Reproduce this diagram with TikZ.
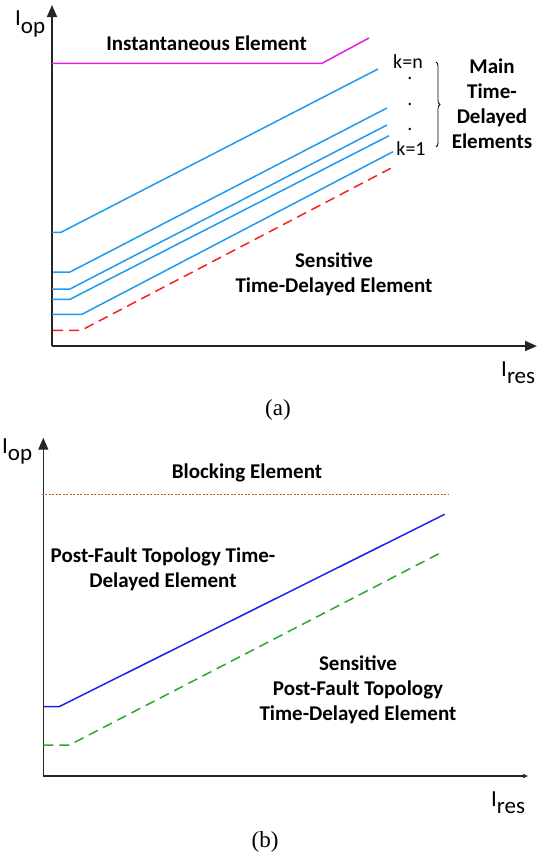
\documentclass[tikz,border=0pt]{standalone}
\usepackage{fontspec}
\setmainfont{Carlito}
\newfontfamily\capfont{Liberation Serif}
\usetikzlibrary{arrows.meta,decorations.pathreplacing}
\definecolor{lblue}{RGB}{30,155,240}
\definecolor{magen}{RGB}{230,30,230}
\definecolor{redd}{RGB}{250,30,30}
\definecolor{dblue}{RGB}{30,30,240}
\definecolor{grn}{RGB}{40,170,40}
\definecolor{brn}{RGB}{197,90,17}
\begin{document}
\begin{tikzpicture}[x=1pt,y=-1pt,
  axisline/.style={line width=1.8pt,black!85},
  axislineb/.style={line width=1.4pt,black!85},
  bigtip/.style={-{Triangle[width=10pt,length=12pt]}},
  smalltip/.style={-{Triangle[width=4pt,length=5pt]}},
  curve/.style={line width=1.5pt,line join=round},
  dashcurve/.style={curve,dash pattern=on 10pt off 6pt},
  lbl/.style={font=\fontsize{21}{25}\selectfont\bfseries,align=center,inner sep=0pt},
  ktxt/.style={font=\fontsize{20}{24}\selectfont,inner sep=0pt},
  axlbl/.style={font=\fontsize{23}{26}\selectfont,inner sep=0pt,anchor=base west},
  captxt/.style={font=\capfont\fontsize{23}{26}\selectfont,inner sep=0pt}]
\useasboundingbox (0,0) rectangle (548,857);
% ---------- panel (a) ----------
\coordinate (oa) at (52,346);
\coordinate (ya) at (52,5);
\coordinate (xa) at (537,346);
\draw[axisline,bigtip] (oa) -- (ya);
\draw[axisline,bigtip] (oa) -- (xa);
\node[axlbl] (iopa) at (15,25) {I\raisebox{-8pt}{op}};
\node[axlbl] (iresa) at (501,376) {I\raisebox{-7pt}{res}};
% instantaneous element
\draw[curve,magen] (52,63.3) -- (322,63.3) -- (369,38);
\node[lbl] (inst) at (206.5,43) {Instantaneous Element};
% main time-delayed elements
\draw[curve,lblue] (52,232.3) -- (61,232.3) -- (378,69);
\draw[curve,lblue] (53,272) -- (70,272) -- (387,108);
\draw[curve,lblue] (52,289) -- (70,289) -- (387,125);
\draw[curve,lblue] (52,299.3) -- (70,299.3) -- (389,135.7);
\draw[curve,lblue] (52,314.3) -- (82,314.3) -- (393,151.7);
% sensitive
\draw[dashcurve,redd] (53,330.3) -- (81.3,330.3) -- (390.7,168.3);
\node[ktxt] (kn) at (408,62) {k=n};
\node[ktxt] (k1) at (411,149) {k=1};
\fill (409.7,78) circle (1.3pt);
\fill (409.7,104) circle (1.3pt);
\fill (409.7,129) circle (1.3pt);
\draw[line width=0.8pt,decorate,decoration={brace,amplitude=4pt}] (436,62) -- (436,147);
\node[lbl] (main) at (492,104) {Main\\Time-\\Delayed\\Elements};
\node[lbl] (sens) at (334,274.5) {Sensitive\\Time-Delayed Element};
\node[captxt] (capa) at (278,410) {(a)};
% ---------- panel (b) ----------
\coordinate (ob) at (43.3,776);
\coordinate (yb) at (43.3,437.7);
\coordinate (xb) at (528,776);
\draw[axislineb,bigtip] (ob) -- (yb);
\draw[axislineb,smalltip] (ob) -- (xb);
\node[axlbl] (iopb) at (2,453) {I\raisebox{-7pt}{op}};
\node[axlbl] (iresb) at (491,806.5) {I\raisebox{-7pt}{res}};
\draw[brn,line width=1pt,dash pattern=on 2pt off 1.5pt] (41.7,494.3) -- (449,494.3);
\node[lbl] (block) at (247,473) {Blocking Element};
\draw[curve,dblue] (43.3,706.7) -- (59,706.7) -- (444.7,514.3);
\draw[dashcurve,grn] (43.3,745) -- (69.5,745) -- (440.7,552.7);
\node[lbl] (pft) at (163,569.5) {Post-Fault Topology Time-\\Delayed Element};
\node[lbl] (spft) at (358,690) {Sensitive\\Post-Fault Topology\\Time-Delayed Element};
\node[captxt] (capb) at (265,842) {(b)};
\end{tikzpicture}
\end{document}
